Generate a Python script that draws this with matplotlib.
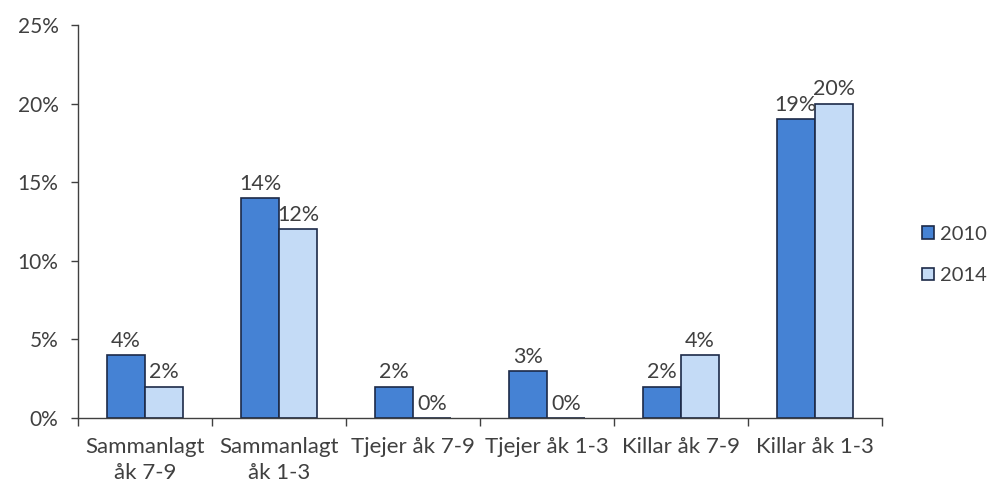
import matplotlib.pyplot as plt
import numpy as np

plt.rcParams['font.family'] = ['Lato', 'DejaVu Sans']

# data
categories = ["Sammanlagt\nåk 7-9", "Sammanlagt\nåk 1-3", "Tjejer åk 7-9",
              "Tjejer åk 1-3", "Killar åk 7-9", "Killar åk 1-3"]
years = ["2010", "2014"]
vals_2010 = [4, 14, 2, 3, 2, 19]
vals_2014 = [2, 12, 0, 0, 4, 20]
y_ticks = [0, 5, 10, 15, 20, 25]

fig = plt.figure(figsize=(9.92, 4.91), dpi=100)
ax = fig.add_axes([0.0786, 0.1487, 0.8104, 0.8003])

x = np.arange(len(categories))
w = 0.284
text_col = "#404040"
edge = "#1c2a48"

b1 = ax.bar(x - w / 2, vals_2010, w, color="#4582d4", edgecolor=edge, linewidth=1.2, label=years[0])
b2 = ax.bar(x + w / 2, vals_2014, w, color="#c4dbf6", edgecolor=edge, linewidth=1.2, label=years[1])

for bars, vals in ((b1, vals_2010), (b2, vals_2014)):
    for rect, v in zip(bars, vals):
        ax.annotate(f"{v}%", (rect.get_x() + rect.get_width() / 2, v),
                    xytext=(0, 3), textcoords="offset points",
                    ha="center", va="bottom", fontsize=15.5, color=text_col)

ax.set_xlim(-0.5, len(categories) - 0.5)
ax.set_ylim(0, 25)
ax.set_yticks(y_ticks)
ax.set_yticklabels([f"{t}%" for t in y_ticks])
ax.set_xticks(x)
ax.set_xticklabels(categories, linespacing=1.35)
ax.set_xticks(np.arange(len(categories) + 1) - 0.5, minor=True)

ax.tick_params(axis="y", length=5, width=1, colors="#404040", labelsize=15, pad=9)
ax.tick_params(axis="x", which="major", length=0, labelsize=16, labelcolor=text_col, pad=14)
ax.tick_params(axis="x", which="minor", length=6, width=1, color="#404040", direction="out")

for s in ("top", "right"):
    ax.spines[s].set_visible(False)
for s in ("left", "bottom"):
    ax.spines[s].set_color("#404040")
    ax.spines[s].set_linewidth(1.0)

leg = ax.legend(loc="center left", bbox_to_anchor=(1.027, 0.415), frameon=False,
                fontsize=14.5, handlelength=0.6, handleheight=0.6, handletextpad=0.3,
                labelspacing=1.2, labelcolor=text_col)

fig.savefig("out.png", dpi=100)
